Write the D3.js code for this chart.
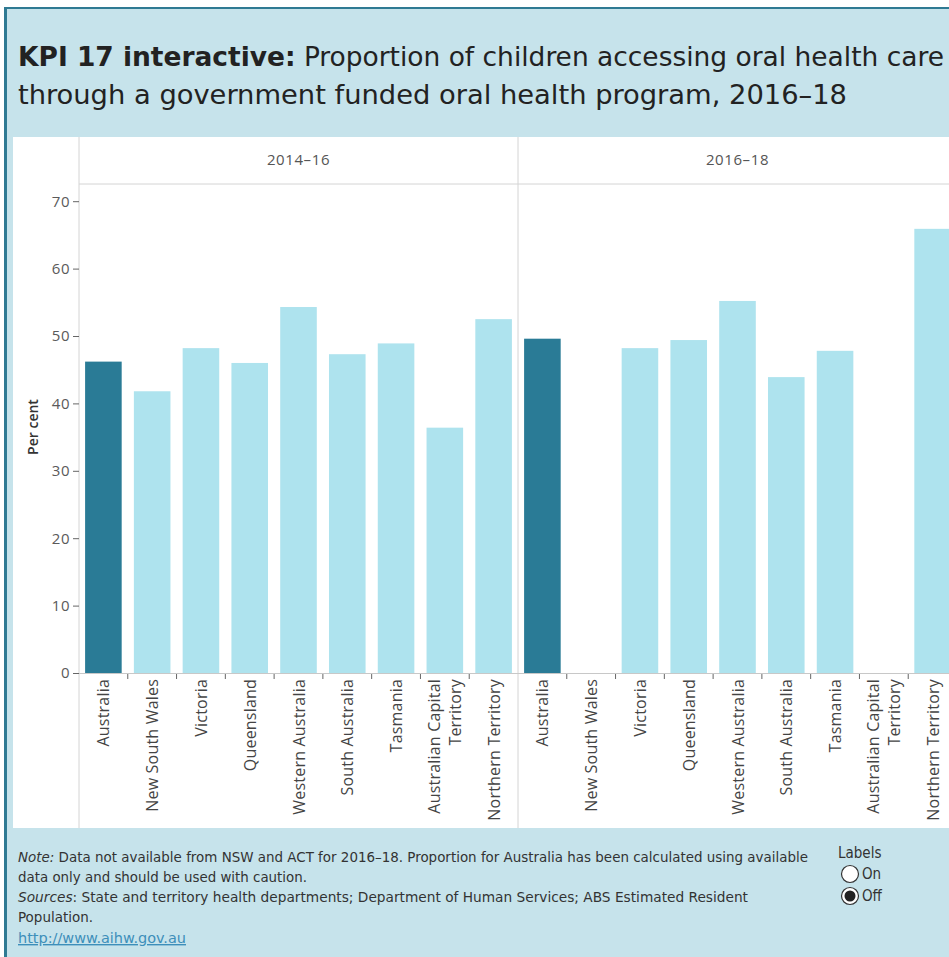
<!DOCTYPE html>
<html>
<head>
<meta charset="utf-8">
<script src="https://cdn.jsdelivr.net/npm/d3@7/dist/d3.min.js"></script>
<style>
  html, body { margin: 0; padding: 0; background: #ffffff; overflow: hidden; }
  svg { display: block; }
  text { font-family: "Open Sans", Lato, "DejaVu Sans", sans-serif; }
  .narrow { font-family: "Liberation Sans Narrow", "DejaVu Sans Condensed", Lato, sans-serif; }
</style>
</head>
<body>
<svg id="chart" width="949" height="957"></svg>
<script>
// Jurisdictions shown in each period panel
const categories = [
  "Australia", "New South Wales", "Victoria", "Queensland", "Western Australia",
  "South Australia", "Tasmania", "Australian Capital Territory", "Northern Territory"
];
const periods = ["2014–16", "2016–18"];
// Per cent of children accessing care (null = not available)
const values2014_16 = [46.2, 41.8, 48.2, 46.0, 54.3, 47.3, 48.9, 36.4, 52.5];
const values2016_18 = [49.6, null, 48.2, 49.4, 55.2, 43.9, 47.8, null, 65.9];
const yTicks = [0, 10, 20, 30, 40, 50, 60, 70];

const seriesByPeriod = [values2014_16, values2016_18];

const svg = d3.select("#chart");
const W = 949, H = 957;

const colors = {
  frame: "#c6e3eb",
  border: "#2f7a93",
  total: "#2a7b96",
  state: "#aee3ee",
  grid: "#d4d4d4",
  tick: "#666666",
  text: "#333333"
};

// Dashboard background and frame edges
svg.append("rect").attr("x", 5).attr("y", 8).attr("width", W).attr("height", H)
  .attr("fill", colors.frame);
svg.append("rect").attr("x", 4).attr("y", 8).attr("width", 3).attr("height", H)
  .attr("fill", colors.border);
svg.append("rect").attr("x", 4).attr("y", 7).attr("width", W).attr("height", 2)
  .attr("fill", colors.border);

// Title
const title = svg.append("g").attr("class", "narrow");
title.append("text").attr("class", "narrow").attr("x", 18).attr("y", 66)
  .attr("font-size", 27).attr("fill", "#222")
  .attr("textLength", 926).attr("lengthAdjust", "spacingAndGlyphs")
  .call(t => {
    t.append("tspan").attr("font-weight", "bold").text("KPI 17 interactive:");
    t.append("tspan").text(" Proportion of children accessing oral health care");
  });
title.append("text").attr("class", "narrow").attr("x", 18).attr("y", 104)
  .attr("font-size", 27).attr("fill", "#222")
  .attr("textLength", 829).attr("lengthAdjust", "spacingAndGlyphs")
  .text("through a government funded oral health program, 2016–18");

// Plot area layout
const plotTop = 137, plotBottom = 828, headerBottom = 184;
const axisX = 79, panelW = 439;
const plotLeft = 13;

svg.append("rect").attr("x", plotLeft).attr("y", plotTop)
  .attr("width", W - plotLeft).attr("height", plotBottom - plotTop)
  .attr("fill", "#ffffff");

const y = d3.scaleLinear().domain([0, 70]).range([673, 201.2]);

// Panel offsets
const panelX = d3.scaleBand().domain(periods)
  .range([axisX, axisX + panelW * periods.length]);

// Header rule and panel separators
svg.append("line").attr("x1", axisX).attr("x2", W)
  .attr("y1", headerBottom).attr("y2", headerBottom)
  .attr("stroke", colors.grid).attr("stroke-width", 1);
periods.forEach(p => {
  svg.append("line")
    .attr("x1", panelX(p)).attr("x2", panelX(p))
    .attr("y1", plotTop).attr("y2", plotBottom)
    .attr("stroke", colors.grid).attr("stroke-width", 1);
});

// Y axis
const yAxis = d3.axisLeft(y).tickValues(yTicks).tickSize(6).tickPadding(3);
const yg = svg.append("g").attr("transform", `translate(${axisX},0)`).call(yAxis);
yg.select(".domain").remove();
yg.selectAll(".tick line").attr("stroke", colors.tick);
yg.selectAll(".tick text").attr("font-size", 15).attr("fill", "#5a5a5a")
  .attr("letter-spacing", 0.5)
  .attr("font-family", "'Open Sans', Lato, sans-serif");

svg.append("text")
  .attr("transform", `translate(38,427) rotate(-90)`)
  .attr("text-anchor", "middle").attr("font-size", 14).attr("fill", colors.text)
  .attr("font-weight", 600)
  .text("Per cent");

// Panels
periods.forEach((period, pi) => {
  const x0 = panelX(period);
  const x = d3.scaleBand().domain(categories)
    .range([x0, x0 + panelW]).paddingInner(0.25).paddingOuter(0.125);
  const g = svg.append("g");

  // Panel header
  g.append("text").attr("x", x0 + panelW / 2).attr("y", 165)
    .attr("text-anchor", "middle").attr("font-size", 15).attr("fill", "#555")
    .attr("letter-spacing", 0.6)
    .text(period);

  const rows = categories.map((c, i) => ({ cat: c, value: seriesByPeriod[pi][i] }))
    .filter(d => d.value !== null);

  g.selectAll("rect.bar").data(rows).join("rect")
    .attr("class", "bar")
    .attr("x", d => x(d.cat))
    .attr("width", x.bandwidth())
    .attr("y", d => y(d.value))
    .attr("height", d => y(0) - y(d.value))
    .attr("fill", d => d.cat === "Australia" ? colors.total : colors.state);

  // Baseline and category boundary ticks
  g.append("line").attr("x1", x0).attr("x2", x0 + panelW)
    .attr("y1", y(0) + 0.5).attr("y2", y(0) + 0.5)
    .attr("stroke", "#c8c8c8");
  const step = x.step();
  categories.slice(1).forEach(c => {
    const bx = x(c) - step * 0.125;
    g.append("line").attr("x1", bx).attr("x2", bx)
      .attr("y1", y(0) + 1).attr("y2", y(0) + 6)
      .attr("stroke", colors.tick);
  });

  // Rotated category labels
  categories.forEach(c => {
    const cx = x(c) + x.bandwidth() / 2;
    const lines = c === "Australian Capital Territory"
      ? ["Australian Capital", "Territory"] : [c];
    const lh = 21;
    lines.forEach((ln, li) => {
      const dx = (li - (lines.length - 1) / 2) * lh;
      g.append("text")
        .attr("transform", `translate(${cx + dx + 6},${y(0) + 6}) rotate(-90)`)
        .attr("text-anchor", "end").attr("font-size", 16).attr("fill", "#444")
        .attr("letter-spacing", 0.2)
        .text(ln);
    });
  });
});

// Footer notes
const foot = svg.append("g").attr("font-size", 14).attr("fill", "#333");
foot.append("text").attr("class", "narrow").attr("x", 18).attr("y", 862)
  .attr("textLength", 790).attr("lengthAdjust", "spacingAndGlyphs")
  .call(t => {
    t.append("tspan").attr("font-style", "italic").text("Note:");
    t.append("tspan").text(" Data not available from NSW and ACT for 2016–18. Proportion for Australia has been calculated using available");
  });
foot.append("text").attr("class", "narrow").attr("x", 18).attr("y", 882)
  .attr("textLength", 289).attr("lengthAdjust", "spacingAndGlyphs")
  .text("data only and should be used with caution.");
foot.append("text").attr("class", "narrow").attr("x", 18).attr("y", 902)
  .attr("textLength", 730).attr("lengthAdjust", "spacingAndGlyphs")
  .call(t => {
    t.append("tspan").attr("font-style", "italic").text("Sources");
    t.append("tspan").text(": State and territory health departments; Department of Human Services; ABS Estimated Resident");
  });
foot.append("text").attr("class", "narrow").attr("x", 18).attr("y", 922)
  .attr("textLength", 75).attr("lengthAdjust", "spacingAndGlyphs")
  .text("Population.");
foot.append("text").attr("class", "narrow").attr("x", 18).attr("y", 943)
  .attr("textLength", 168).attr("lengthAdjust", "spacingAndGlyphs")
  .attr("fill", "#3d8fba").attr("text-decoration", "underline")
  .text("http://www.aihw.gov.au");

// Labels toggle
const legend = svg.append("g");
legend.append("text").attr("class", "narrow").attr("x", 838).attr("y", 858).attr("font-size", 15)
  .attr("fill", "#333").text("Labels");
const options = ["On", "Off"];
options.forEach((o, i) => {
  const cy = 874 + i * 22;
  legend.append("circle").attr("cx", 850).attr("cy", cy).attr("r", 8.5)
    .attr("fill", "#ffffff").attr("stroke", "#333").attr("stroke-width", 1.2);
  if (o === "Off") {
    legend.append("circle").attr("cx", 850).attr("cy", cy).attr("r", 5.5).attr("fill", "#222");
  }
  legend.append("text").attr("class", "narrow").attr("x", 862).attr("y", cy + 5).attr("font-size", 15)
    .attr("fill", "#333").text(o);
});
</script>
</body>
</html>
